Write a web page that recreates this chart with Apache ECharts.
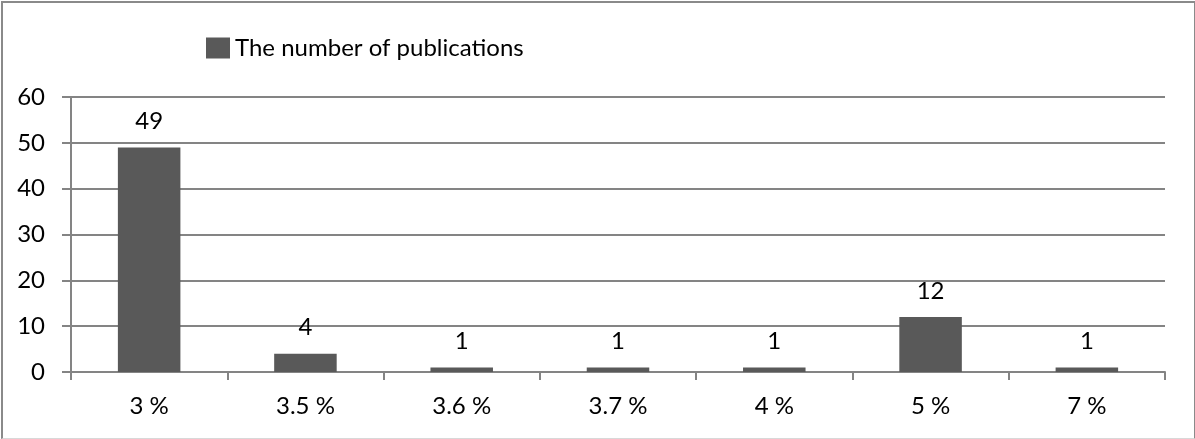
<!DOCTYPE html>
<html>
<head>
<meta charset="utf-8">
<script src="https://cdn.jsdelivr.net/npm/echarts@6/dist/echarts.min.js"></script>
<style>
  html, body { margin: 0; padding: 0; background: #fff; }
  #frame {
    position: absolute; left: 1px; top: 1px; width: 1191px; height: 435px;
    border-left: 2px solid #8a8a8a; border-right: 2px solid #8a8a8a;
    border-top: 2px solid #8a8a8a; border-bottom: 1px solid #d8d8d8;
  }
  #chart { position: absolute; left: 0; top: 0; width: 1195px; height: 439px; }
</style>
</head>
<body>
<div id="frame"></div>
<div id="chart"></div>
<script>
// Share of the rate and how many publications use it
const categories = ['3 %', '3.5 %', '3.6 %', '3.7 %', '4 %', '5 %', '7 %'];
const publications = [49, 4, 1, 1, 1, 12, 1];
const seriesName = 'The number of publications';

const FONT = 'Lato, "Liberation Sans", sans-serif';
const FONT_SIZE = 24;
const GRID_COLOR = '#848484';

const chart = echarts.init(document.getElementById('chart'), null, { renderer: 'canvas' });
chart.setOption({
  animation: false,
  textStyle: { fontFamily: FONT },
  legend: {
    left: 201, top: 31,
    itemWidth: 24, itemHeight: 21, itemGap: 7,
    icon: 'rect',
    textStyle: { fontFamily: FONT, fontSize: FONT_SIZE, color: '#000' },
    data: [seriesName]
  },
  grid: { left: 71, right: 30, top: 97, bottom: 67, containLabel: false },
  xAxis: {
    type: 'category',
    data: categories,
    boundaryGap: true,
    axisLine: { lineStyle: { color: GRID_COLOR, width: 2 } },
    axisTick: { show: true, length: 8, lineStyle: { color: GRID_COLOR, width: 2 } },
    axisLabel: { margin: 22, fontFamily: FONT, fontSize: FONT_SIZE, color: '#000' }
  },
  yAxis: {
    type: 'value',
    min: 0, max: 60, interval: 10,
    axisLine: { show: true, lineStyle: { color: GRID_COLOR, width: 2 } },
    axisTick: { show: true, length: 9, lineStyle: { color: GRID_COLOR, width: 2 } },
    axisLabel: { margin: 26, fontFamily: FONT, fontSize: FONT_SIZE, color: '#000' },
    splitLine: { show: true, lineStyle: { color: GRID_COLOR, width: 2 } }
  },
  series: [{
    name: seriesName,
    type: 'bar',
    data: publications,
    barWidth: '40%',
    itemStyle: { color: '#595959' },
    label: {
      show: true, position: 'top', distance: 14,
      fontFamily: FONT, fontSize: FONT_SIZE, color: '#000'
    }
  }]
});
</script>
</body>
</html>
